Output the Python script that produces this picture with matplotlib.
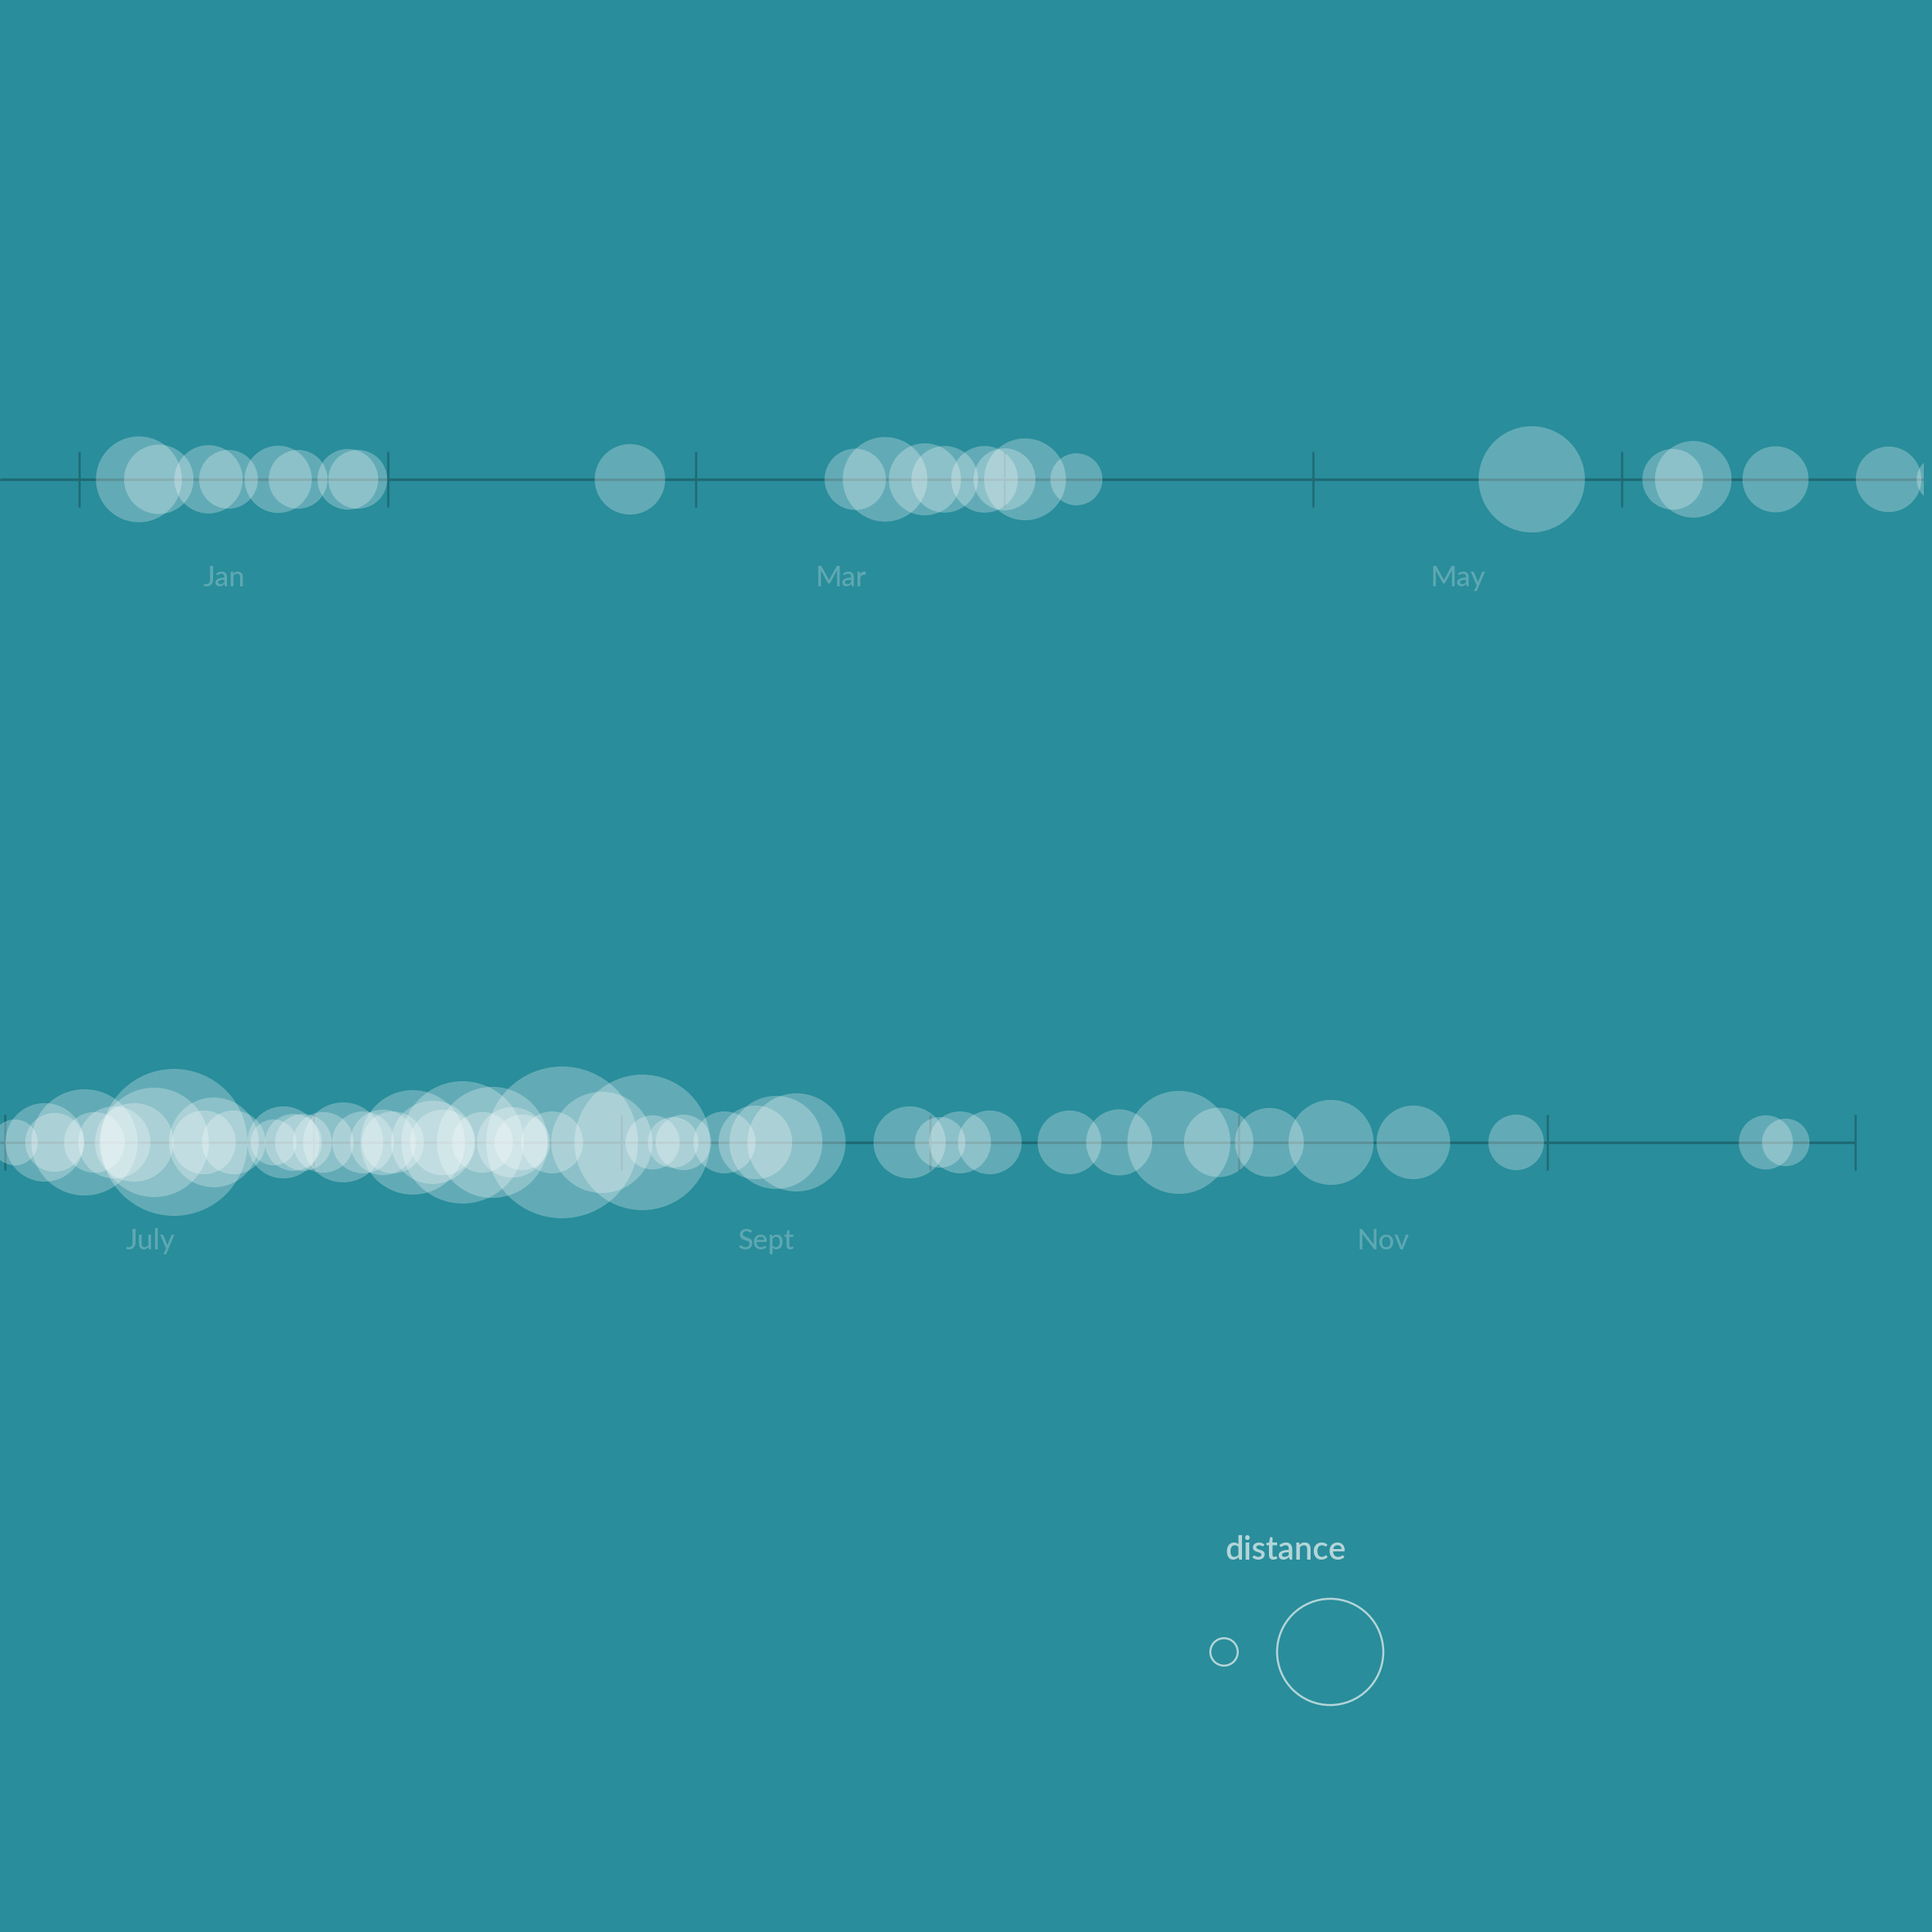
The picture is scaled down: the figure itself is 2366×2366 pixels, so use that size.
import matplotlib.pyplot as plt
import numpy as np

# one point per outing: date (MM-DD) and distance
dates = [
    "01-07", "01-09", "01-14", "01-16", "01-21", "01-23", "01-28", "01-29",
    "02-23",
    "03-17", "03-20", "03-24", "03-26", "03-30", "04-01", "04-03", "04-08",
    "05-23",
    "06-06", "06-08", "06-16", "06-27",
    "07-02", "07-05", "07-06", "07-09", "07-10", "07-12", "07-14", "07-16",
    "07-18", "07-21", "07-22", "07-24", "07-28", "07-29", "07-30", "07-31",
    "08-02", "08-04", "08-06", "08-08", "08-09", "08-11", "08-13", "08-14",
    "08-16", "08-18", "08-19", "08-21", "08-22", "08-25", "08-26", "08-30",
    "09-03", "09-04", "09-06", "09-07", "09-11", "09-14", "09-16", "09-18",
    "09-29", "10-02", "10-04", "10-07", "10-15", "10-20", "10-26", "10-30",
    "11-04", "11-10", "11-18", "11-28",
    "12-23", "12-25",
]
distance = [
    9.8, 6.4, 6.2, 4.6, 6.0, 4.6, 4.9, 4.6,
    6.6,
    5.0, 9.5, 6.9, 5.9, 5.9, 5.1, 8.9, 3.6,
    15.0,
    4.9, 7.8, 5.8, 5.7,
    2.8, 8.2, 4.6, 15.0, 4.9, 6.9, 8.2, 15.9,
    28.7, 5.4, 10.7, 5.4, 2.8, 6.9, 4.3, 4.3,
    4.9, 8.5, 5.1, 5.7, 5.1, 14.5, 9.2, 5.7,
    19.9, 4.9, 16.4, 6.6, 4.1, 5.1, 30.6, 13.6,
    24.4, 3.9, 3.4, 4.1, 5.1, 7.2, 11.5, 12.8,
    6.9, 3.4, 5.1, 5.4, 5.4, 5.8, 14.1, 6.4,
    6.3, 9.6, 7.2, 4.1,
    3.9, 3.0,
]
legend_values = [1, 15]

month_names = ["Jan", "Mar", "May", "July", "Sept", "Nov"]
month_label_idx = [0, 2, 4, 6, 8, 10]
days_in_month = [31, 28, 31, 30, 31, 30, 31, 31, 30, 31, 30, 31]

BG = "#298d9b"
LINE = "#1f6a74"
LABEL = "#5da8b2"
LEGEND = "#b3d5d9"
DPI = 100
SIZE = 2366
MONTH_PX = 377.7


def month_pos(d):
    m, day = int(d[:2]), int(d[3:])
    return (m - 1) + (day - 1) / days_in_month[m - 1]


def marker_area(dist):
    # radius in pixels grows with sqrt(distance)
    r_px = 16.8 * np.sqrt(np.asarray(dist, dtype=float))
    return (2 * r_px * 72.0 / DPI) ** 2


plt.rcParams['font.family'] = ['Lato', 'DejaVu Sans']

x = np.array([month_pos(d) for d in dates])
sizes = marker_area(distance)

fig = plt.figure(figsize=(SIZE / DPI, SIZE / DPI), dpi=DPI, facecolor=BG)

half_h = 170
rows = [
    # (line y from top in px, first month at left edge, px of that month, width frac, months with ticks, line end)
    (587, 0, 97, 2356 / SIZE, range(0, 6), None),
    (1399, 6, 6, 1.0, range(6, 13), 12),
]

for line_y, m0, m0_px, wfrac, tick_months, line_end in rows:
    ax = fig.add_axes([0, (SIZE - line_y - half_h) / SIZE, wfrac, 2 * half_h / SIZE])
    ax.set_facecolor('none')
    ax.axis('off')
    x_left = m0 - m0_px / MONTH_PX
    x_right = x_left + wfrac * SIZE / MONTH_PX
    ax.set_xlim(x_left, x_right)
    ax.set_ylim(-half_h, half_h)

    end = x_right if line_end is None else line_end
    ax.hlines(0, x_left, end, color=LINE, lw=2.3, zorder=1)
    ax.vlines(list(tick_months), -34, 34, color=LINE, lw=1.8, zorder=1)

    ax.scatter(x, np.zeros_like(x), s=sizes, c='white', alpha=0.27,
               linewidths=0, edgecolors='none', zorder=2)

    for name, mi in zip(month_names, month_label_idx):
        if x_left <= mi < x_right:
            ax.text(mi + 0.47, -131, name, color=LABEL, fontsize=25,
                    fontweight='medium', ha='center', va='baseline')

# legend drawn in figure pixel space
lax = fig.add_axes([0, 0, 1, 1])
lax.set_facecolor('none')
lax.axis('off')
lax.set_xlim(0, SIZE)
lax.set_ylim(SIZE, 0)
lax.text(1575, 1910, "distance", color=LEGEND, fontsize=29, fontweight='semibold',
         ha='center', va='baseline')
lax.scatter([1499, 1629], [2023, 2023], s=marker_area(legend_values),
            facecolors='none', edgecolors=LEGEND, linewidths=1.8)

fig.savefig("out.png", dpi=DPI, facecolor=BG)
